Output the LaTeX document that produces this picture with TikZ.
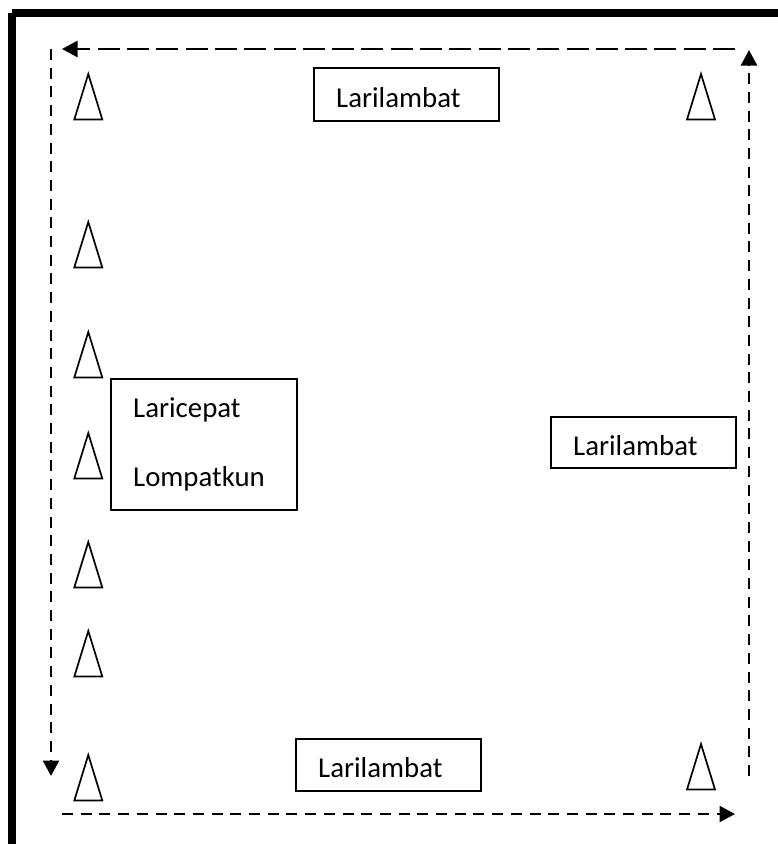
\documentclass[tikz,border=0pt]{standalone}
\usepackage{fontspec}
\setmainfont{Carlito}
\usetikzlibrary{arrows.meta}
\tikzset{
  framebar/.style={line width=8pt,line cap=butt},
  marker/.style={draw=black,line width=1.7pt,line join=miter},
  box/.style={draw=black,line width=1.3pt,rectangle,inner sep=0pt,minimum width=#1},
  lbl/.style={font=\fontsize{28.8pt}{30pt}\selectfont,anchor=base west,inner sep=0pt},
  longdash/.style={line width=2.4pt,dash pattern=on 22pt off 7.3pt},
  shortdash/.style={line width=2.4pt,dash pattern=on 11pt off 7.7pt},
  tip/.style={-{Triangle[length=15.5pt,width=16pt]}}
}
\newcommand{\cone}[2]{\draw[marker] (#1,#2+2) -- (#1-14,#2+47.5) -- (#1+14,#2+47.5) -- cycle;}
\begin{document}
\begin{tikzpicture}[x=1pt,y=-1pt]
\useasboundingbox (0,0) rectangle (778,844);
\fill[white] (0,0) rectangle (778,844);
\draw[framebar] (12,13) -- (778,13);
\draw[framebar] (11.5,13) -- (11.5,844);
\coordinate (tr) at (735,49); \coordinate (tl) at (62,49);
\coordinate (ls) at (51,49); \coordinate (le) at (51,776);
\coordinate (bs) at (62,814); \coordinate (be) at (735,814);
\coordinate (rs) at (749,776); \coordinate (re) at (749,50);
\draw[longdash,tip] (tr) -- (tl);
\draw[shortdash,tip] (ls) -- (le);
\draw[shortdash,tip] (bs) -- (be);
\draw[shortdash,tip] (rs) -- (re);
\foreach \y in {72,220,330,431,540,629,753} {\cone{88.3}{\y}}
\cone{701}{72}
\cone{701}{742}
\node[box=185pt,minimum height=53pt] (b1) at (406.5,94.5) {};
\node[box=185pt,minimum height=51pt] (b2) at (643.5,442.5) {};
\node[box=185pt,minimum height=52pt] (b3) at (388.5,765) {};
\node[box=186pt,minimum height=131pt] (b4) at (204,444.5) {};
\node[lbl] (t1) at (336,107) {Larilambat};
\node[lbl] (t2) at (573,455) {Larilambat};
\node[lbl] (t3) at (318,777) {Larilambat};
\node[lbl] (t4) at (133,417) {Laricepat};
\node[lbl] (t5) at (133,486) {Lompatkun};
\end{tikzpicture}
\end{document}
